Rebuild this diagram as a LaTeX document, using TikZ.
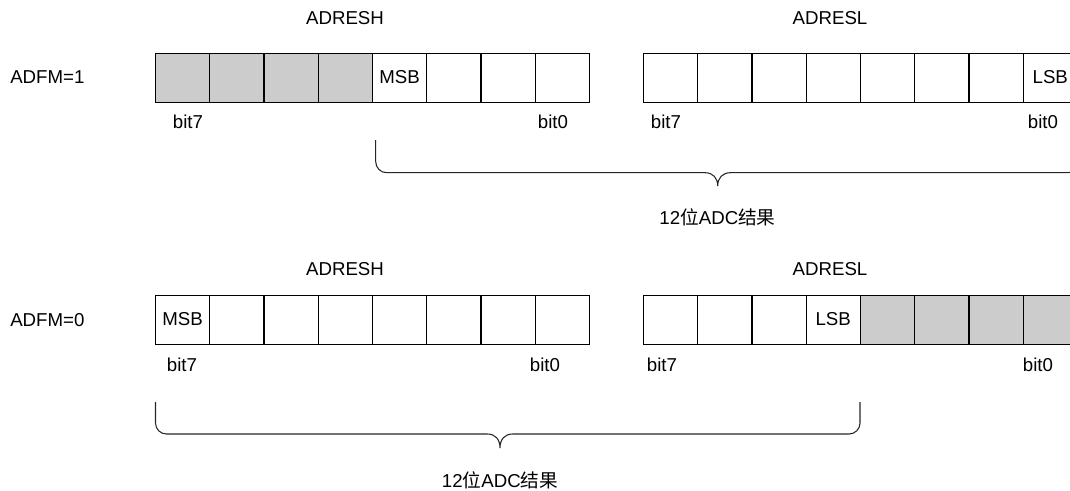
\documentclass[tikz,border=0pt]{standalone}
\usepackage{fontspec}
\setmainfont{Liberation Sans}
\newfontfamily\cjk{Noto Sans CJK SC}
\definecolor{cellgray}{HTML}{CCCCCC}
\begin{document}
\begin{tikzpicture}[x=0.75pt,y=-0.75pt,
  every node/.style={font=\fontsize{14pt}{16pt}\selectfont, inner sep=0pt},
  cell/.style={draw=black, line width=0.75pt, minimum width=40.5pt, minimum height=36.75pt, anchor=north west, outer sep=0pt},
  shaded/.style={cell, fill=cellgray},
  brace/.style={draw=black!85, line width=0.8pt}]
\useasboundingbox (0,0) rectangle (1070,490);
\clip (0,0) rectangle (1070,490);
% registers
\foreach \r/\yy in {a/53, b/295}{
  \foreach \i in {0,...,7}{
    \node[cell] (\r H\i) at ({155.5+54.25*\i},\yy) {};
    \node[cell] (\r L\i) at ({643.5+54.25*\i},\yy) {};
  }
}
\foreach \i in {0,...,3}{ \node[shaded] (aS\i) at ({155.5+54.25*\i},53) {}; }
\foreach \i in {4,...,7}{ \node[shaded] (bS\i) at ({643.5+54.25*\i},295) {}; }
% cell texts
\node (msbA) at (aH4.center) {MSB};
\node (lsbA) at (aL7.center) {LSB};
\node (msbB) at (bH0.center) {MSB};
\node (lsbB) at (bL3.center) {LSB};
% titles
\node (adreshA) at (345,18) {ADRESH};
\node (adreslA) at (830,18) {ADRESL};
\node (adreshB) at (345,269) {ADRESH};
\node (adreslB) at (830,269) {ADRESL};
\node[anchor=west] (adfm1) at (10,77) {ADFM=1};
\node[anchor=west] (adfm0) at (10,320) {ADFM=0};
% bit labels
\node (a7h) at (188,122) {bit7};
\node (a0h) at (553,122) {bit0};
\node (a7l) at (666,122) {bit7};
\node (a0l) at (1043,122) {bit0};
\node (b7h) at (182,365) {bit7};
\node (b0h) at (545,365) {bit0};
\node (b7l) at (662,365) {bit7};
\node (b0l) at (1038,365) {bit0};
% brace top
\coordinate (tA) at (375.7,140);
\coordinate (tB) at (1079,140);
\coordinate (tT) at (717.7,186);
\draw[brace] (tA) -- (375.7,161.7) .. controls (375.7,167.8) and (380.6,172.7) .. (386.7,172.7)
  -- (705,172.7) .. controls (713,172.7) and (717.7,178) .. (tT)
  .. controls (717.7,178) and (722.4,172.7) .. (730.4,172.7)
  -- (1068,172.7) .. controls (1074.1,172.7) and (1079,167.8) .. (1079,161.7) -- (tB);
% brace bottom
\coordinate (uA) at (155.5,402);
\coordinate (uB) at (860,402);
\coordinate (uT) at (500,448);
\draw[brace] (uA) -- (155.5,423) .. controls (155.5,429.1) and (160.4,434) .. (166.5,434)
  -- (487.3,434) .. controls (495.3,434) and (500,439.3) .. (uT)
  .. controls (500,439.3) and (504.7,434) .. (512.7,434)
  -- (849,434) .. controls (855.1,434) and (860,429.1) .. (860,423) -- (uB);
% result labels
\node (resA) at (717.5,217) {12{\cjk 位}ADC{\cjk 结果}};
\node (resB) at (500,480) {12{\cjk 位}ADC{\cjk 结果}};
\end{tikzpicture}
\end{document}
